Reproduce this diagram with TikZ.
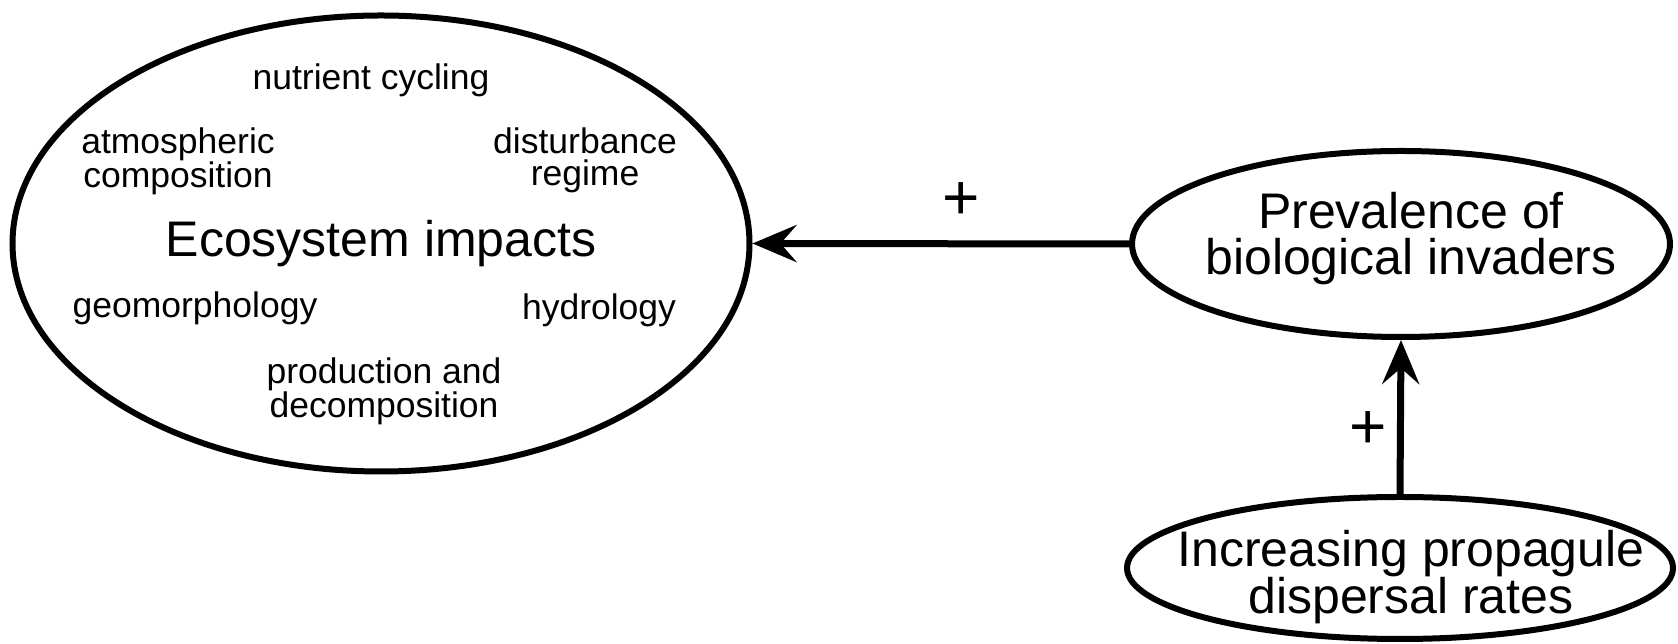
\documentclass[tikz,border=0pt]{standalone}
\usepackage{fontspec}
\setmainfont{Liberation Sans}
\usetikzlibrary{shapes.geometric,arrows.meta}

\tikzset{
  oval/.style={draw, ellipse, line width=6pt, inner sep=0pt},
  bigtxt/.style={font=\fontsize{50}{46}\selectfont, align=center},
  smalltxt/.style={font=\fontsize{35.5}{32}\selectfont, align=center},
  causal/.style={line width=7pt, -{Stealth[length=44pt, width=37pt, inset=16pt]}},
  sign/.style={font=\fontsize{64}{64}\selectfont, inner sep=0pt}
}

\begin{document}
\begin{tikzpicture}[x=1pt, y=1pt]
            \useasboundingbox (0,0) rectangle (1678,644);

            % big oval
            \node[oval, bigtxt, minimum width=737, minimum height=456] (eco) at (381,400.5) {Ecosystem impacts};
            \node[smalltxt] (nutrient) at (371,564) {nutrient cycling};
            \node[smalltxt] (atmos) at (178,483) {atmospheric\\composition};
            \node[smalltxt] (disturb) at (585,484) {disturbance\\regime};
            \node[smalltxt] (geomorph) at (195,336) {geomorphology};
            \node[smalltxt] (hydro) at (599,334) {hydrology};
            \node[smalltxt] (prodn) at (384,253) {production and\\decomposition};

            % right ovals
            \node[oval, minimum width=538, minimum height=186] (prev) at (1401,400) {};
            \node[bigtxt] (prevtxt) at (1411,405) {Prevalence of\\biological invaders};
            \node[oval, minimum width=546, minimum height=142] (disp) at (1400,76) {};
            \node[bigtxt] (disptxt) at (1411,67) {Increasing propagule\\dispersal rates};

            % arrows
            \draw[causal] (prev.west) -- (eco.east);
            \draw[causal] (disp.north) -- (prev.south);
            \node[sign] (plusa) at (961,443) {+};
            \node[sign] (plusb) at (1368,214) {+};
\end{tikzpicture}
\end{document}
